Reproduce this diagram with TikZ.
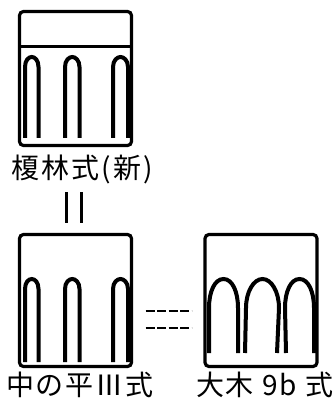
\documentclass[tikz,border=0pt]{standalone}
\usepackage{fontspec}
\newfontfamily\jp{Noto Sans CJK JP}
\newfontfamily\jpwide{Noto Sans CJK JP}[LetterSpace=7]
\begin{document}
\begin{tikzpicture}[x=1pt,y=-1pt,
  potbox/.style={draw, line width=3.2pt, rounded corners=4pt, minimum width=112pt,
    minimum height=132pt, inner sep=0pt, outer sep=0pt},
  archline/.style={line width=4pt, line cap=butt},
  eqline/.style={line width=3pt},
  eqdash/.style={line width=2.7pt, dash pattern=on 9pt off 2.5pt},
  lbl/.style={inner sep=0pt, outer sep=0pt, font=\jp\fontsize{28}{30}\selectfont},
  widelbl/.style={lbl, font=\jpwide\fontsize{28}{30}\selectfont}]
\useasboundingbox (0,0) rectangle (332,398);

% pottery outlines
\node[potbox, minimum height=134pt] (upper) at (75.5,78.5) {};
\node[potbox] (lower) at (75.5,300.5) {};
\node[potbox] (right) at (261,300.5) {};

% rim band of the upper vessel
\draw[line width=3pt] (upper.west |- 0,47) -- (upper.east |- 0,47);

% narrow arch motifs
\foreach \l/\r in {25/38.5, 65/79.5, 113/128} {
  \pgfmathsetmacro\c{(\l+\r)/2}
  \draw[archline] (\l,138) -- (\l,67) .. controls (\l,60) and (\c-3,57) .. (\c,57)
     .. controls (\c+3,57) and (\r,60) .. (\r,67) -- (\r,138);
  \draw[archline] (\l,362) -- (\l,289) .. controls (\l,282) and (\c-3,279) .. (\c,279)
     .. controls (\c+3,279) and (\r,282) .. (\r,289) -- (\r,362);
}

% wide arch motifs
\foreach \a/\b/\p/\q in {209/209/238/238, 245/246/279/277, 286/285/314/314} {
  \pgfmathsetmacro\c{(\b+\p)/2}
  \draw[archline] (\a,353) -- (\b,308) .. controls (\b,292) and (\c-9,279) .. (\c,279)
     .. controls (\c+9,279) and (\p,292) .. (\p,308) -- (\q,353);
}

% labels
\node[widelbl, anchor=base west] (lupper) at (12,178) {榎林式(新)};
\node[widelbl, anchor=base west] (llower) at (6,395) {中の平Ⅲ式};
\node[widelbl, anchor=base west] (lright) at (196,395) {大木 9b 式};

% equivalence marks
\coordinate (e1a) at (66.5,192); \coordinate (e1b) at (66.5,223);
\coordinate (e2a) at (81.5,192); \coordinate (e2b) at (81.5,223);
\draw[eqline] (e1a) -- (e1b);
\draw[eqline] (e2a) -- (e2b);
\draw[eqdash, shorten <=14pt, shorten >=13.5pt] ([yshift=-10.5pt]lower.east) -- ([yshift=-10.5pt]right.west);
\draw[eqdash, shorten <=14pt, shorten >=13.5pt] ([yshift=-27.5pt]lower.east) -- ([yshift=-27.5pt]right.west);
\end{tikzpicture}
\end{document}
